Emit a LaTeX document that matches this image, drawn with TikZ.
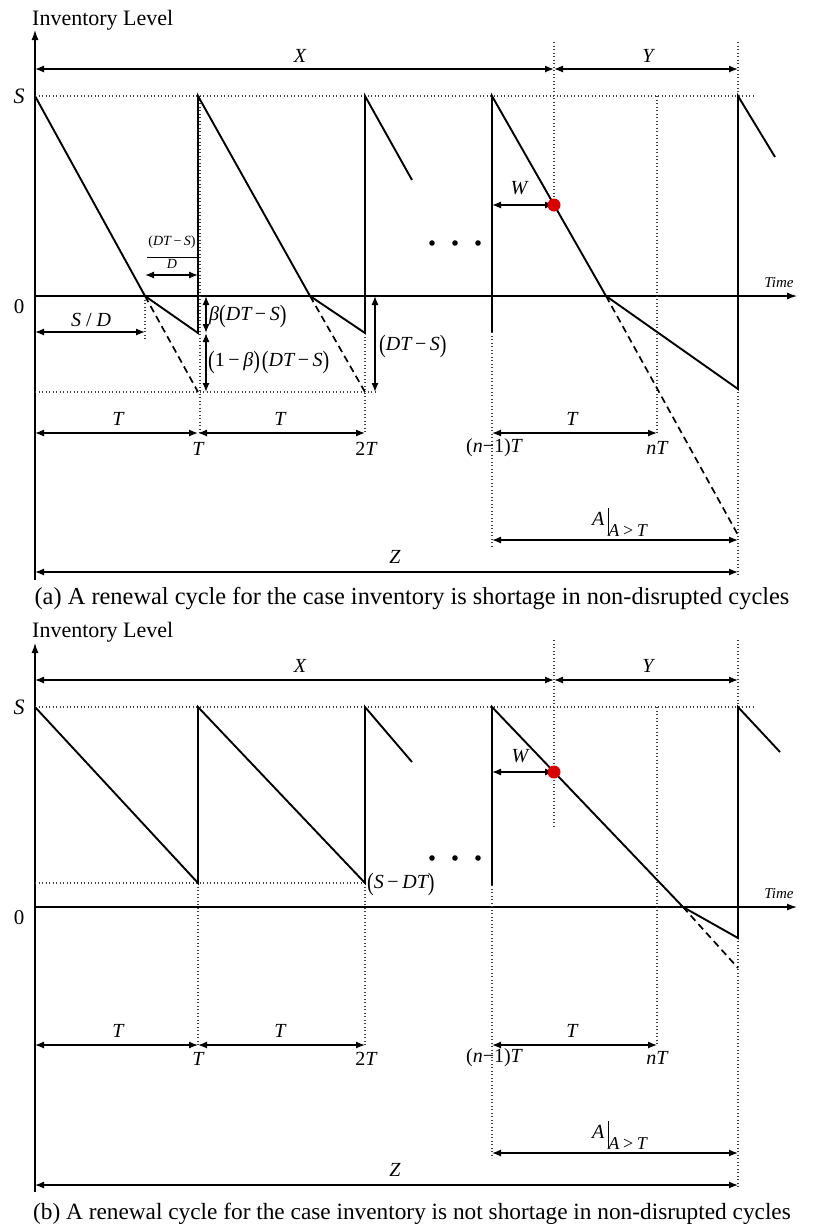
\documentclass[tikz,border=0pt]{standalone}
\usepackage{fontspec}
\setmainfont{Liberation Serif}
\usetikzlibrary{arrows.meta}
\newcommand{\mminus}{\hspace{0.18em}−\hspace{0.18em}}
\newcommand{\LP}{\raisebox{-0.08em}{\upshape\scalebox{1}[1.25]{(}}}
\newcommand{\RP}{\raisebox{-0.08em}{\upshape\scalebox{1}[1.25]{)}}}
\newcommand{\Abar}{\textit{A}\,\rule[-0.45em]{0.8pt}{1.35em}\raisebox{-0.55em}{\fontsize{18}{20}\selectfont\textit{A}\hspace{0.2em}\upshape{>}\hspace{0.2em}\textit{T}}}
\begin{document}
\begin{tikzpicture}[x=1pt,y=-1pt,
 plotln/.style={line width=1.9pt, line join=miter},
 dotln/.style={line width=1.3pt, dash pattern=on 1.3pt off 2.2pt, black!75},
 dashln/.style={line width=1.7pt, dash pattern=on 7pt off 4.5pt},
 dimln/.style={line width=1.3pt, {Latex[length=9pt,width=7pt]}-{Latex[length=9pt,width=7pt]}},
 axisln/.style={line width=1.3pt, -{Latex[length=10pt,width=7pt]}},
 lbl/.style={font=\fontsize{20}{22}\selectfont\itshape, inner sep=1pt},
 uptxt/.style={font=\fontsize{21}{23}\selectfont, inner sep=1pt},
 smalltxt/.style={font=\fontsize{14}{15}\selectfont\itshape, inner sep=1pt},
 timetxt/.style={font=\fontsize{15}{16}\selectfont\itshape, inner sep=1pt},
 captxt/.style={font=\fontsize{24}{26}\selectfont, inner sep=0pt},
 reddot/.style={fill=red!85!black, draw=none}]
\useasboundingbox (0,0) rectangle (813,1224);
\fill[white] (0,0) rectangle (813,1224);

% ================= (a) =================
\node[captxt, anchor=west, font=\fontsize{22}{24}\selectfont] (invA) at (32,20) {Inventory Level};
\draw[axisln] (35,580) -- (35,30);
\draw[axisln] (35,296) -- (797,296);
\node[timetxt] (timeA) at (779,283) {Time};
\node[lbl, font=\fontsize{22}{24}\selectfont\itshape] (sA) at (19,96) {S};
\node[uptxt] (zeroA) at (19,307) {0};
% dotted guides
\draw[dotln] (35,96) -- (753,96);
\draw[dotln] (35,392) -- (377,392);
\draw[dotln] (554,42) -- (554,200);
\draw[dotln] (738,42) -- (738,575);
\draw[dotln] (657,96) -- (657,433);
\draw[dotln] (492,332) -- (492,548);
\draw[dotln] (200,96) -- (200,433);
\draw[dotln] (365,333) -- (365,433);
\draw[dotln] (145,296) -- (145,340);
% X / Y
\draw[dimln] (35,69) -- (554,69);
\draw[dimln] (554,69) -- (738,69);
\node[lbl] (xA) at (300,56) {X};
\node[lbl] (yA) at (648,56) {Y};
% inventory curve
\draw[plotln] (35,96) -- (145,296) -- (198,333) -- (198,96) -- (310,296) -- (365,333) -- (365,96) -- (412,180);
\draw[dashln] (145,296) -- (198,392);
\draw[dashln] (310,296) -- (365,392);
\draw[plotln] (492,332) -- (492,96) -- (606,296) -- (738,389) -- (738,96) -- (775,157);
\draw[dashln] (606,296) -- (738,535);
% dots
\foreach \xx in {432,455,478} \fill (\xx,243) circle (2.8);
% W
\draw[dimln] (492,205) -- (554,205);
\fill[reddot] (554,205) circle (6.5);
\node[lbl] (wA) at (519,188) {W};
% S/D
\draw[dimln] (35,332) -- (145,332);
\node[lbl] (sdA) at (91,320) {S\hspace{0.25em}{\upshape/}\hspace{0.25em}D};
% (DT-S)/D
\draw[dimln] (145,275) -- (198,275);
\node[smalltxt] (fracA) at (172,254) {\begin{tabular}{@{}c@{}}\upshape(\itshape DT\upshape\mminus\itshape S\upshape)\\[-3pt]\rule{50pt}{0.6pt}\\[-4pt] D\end{tabular}};
% beta labels
\draw[dimln] (206,296) -- (206,333);
\draw[dimln] (206,333) -- (206,392);
\node[lbl, anchor=west] (bA) at (208,316) {β\LP\itshape DT\upshape\mminus\itshape S\RP};
\node[lbl, anchor=west] (obA) at (207,362) {\LP\upshape1\mminus\itshape β\RP\hspace{0.1em}\LP\itshape DT\upshape\mminus\itshape S\RP};
\draw[dimln] (375,296) -- (375,392);
\node[lbl, anchor=west] (dtA) at (378,346) {\LP\itshape DT\upshape\mminus\itshape S\RP};
% T arrows
\draw[dimln] (35,433) -- (198,433);
\draw[dimln] (198,433) -- (365,433);
\draw[dimln] (492,433) -- (657,433);
\node[lbl] (t1A) at (118,419) {T};
\node[lbl] (t2A) at (280,419) {T};
\node[lbl] (t3A) at (572,419) {T};
\node[lbl] (tA) at (198,449) {T};
\node[lbl] (ttA) at (366,449) {\upshape2\itshape T};
\node[lbl] (n1A) at (494,448) {\upshape(\itshape n\upshape−1)\itshape T};
\node[lbl] (nA) at (657,448) {nT};
% A and Z
\draw[dimln] (492,540) -- (738,540);
\node[lbl] (aA) at (620,522) {\Abar};
\draw[dimln] (35,572) -- (738,572);
\node[lbl] (zA) at (395,557) {Z};
\node[captxt, font=\fontsize{24.4}{26}\selectfont] (capA) at (412,599) {(a) A renewal cycle for the case inventory is shortage in non-disrupted cycles};

% ================= (b) =================
\node[captxt, anchor=west, font=\fontsize{22}{24}\selectfont] (invB) at (32,632) {Inventory Level};
\draw[axisln] (35,1192) -- (35,643);
\draw[axisln] (35,907) -- (797,907);
\node[timetxt] (timeB) at (779,894) {Time};
\node[lbl, font=\fontsize{22}{24}\selectfont\itshape] (sB) at (19,707) {S};
\node[uptxt] (zeroB) at (19,918) {0};
% dotted guides
\draw[dotln] (35,707) -- (753,707);
\draw[dotln] (35,883) -- (365,883);
\draw[dotln] (554,640) -- (554,827);
\draw[dotln] (738,640) -- (738,1188);
\draw[dotln] (657,707) -- (657,1045);
\draw[dotln] (492,885) -- (492,1158);
\draw[dotln] (198,883) -- (198,1045);
\draw[dotln] (365,883) -- (365,1045);
% X / Y
\draw[dimln] (35,680) -- (554,680);
\draw[dimln] (554,680) -- (738,680);
\node[lbl] (xB) at (300,666) {X};
\node[lbl] (yB) at (648,666) {Y};
% curve
\draw[plotln] (35,707) -- (198,883) -- (198,707) -- (365,883) -- (365,707) -- (412,762);
\draw[plotln] (492,885) -- (492,707) -- (683,907) -- (738,938) -- (738,707) -- (780,752);
\draw[dashln] (683,907) -- (738,968);
\foreach \xx in {432,455,478} \fill (\xx,858) circle (2.8);
\node[lbl, anchor=west] (sdtB) at (366,884) {\LP\itshape S\upshape\mminus\itshape DT\RP};
% W
\draw[dimln] (492,772) -- (554,772);
\fill[reddot] (554,772) circle (6.5);
\node[lbl] (wB) at (520,756) {W};
% T arrows
\draw[dimln] (35,1045) -- (198,1045);
\draw[dimln] (198,1045) -- (365,1045);
\draw[dimln] (492,1045) -- (657,1045);
\node[lbl] (t1B) at (118,1031) {T};
\node[lbl] (t2B) at (280,1031) {T};
\node[lbl] (t3B) at (572,1031) {T};
\node[lbl] (tB) at (198,1059) {T};
\node[lbl] (ttB) at (366,1059) {\upshape2\itshape T};
\node[lbl] (n1B) at (494,1058) {\upshape(\itshape n\upshape−1)\itshape T};
\node[lbl] (nB) at (657,1058) {nT};
% A and Z
\draw[dimln] (492,1153) -- (738,1153);
\node[lbl] (aB) at (620,1135) {\Abar};
\draw[dimln] (35,1185) -- (738,1185);
\node[lbl] (zB) at (395,1170) {Z};
\node[captxt, font=\fontsize{23.3}{25}\selectfont] (capB) at (412,1214) {(b) A renewal cycle for the case inventory is not shortage in non-disrupted cycles};
\end{tikzpicture}
\end{document}
